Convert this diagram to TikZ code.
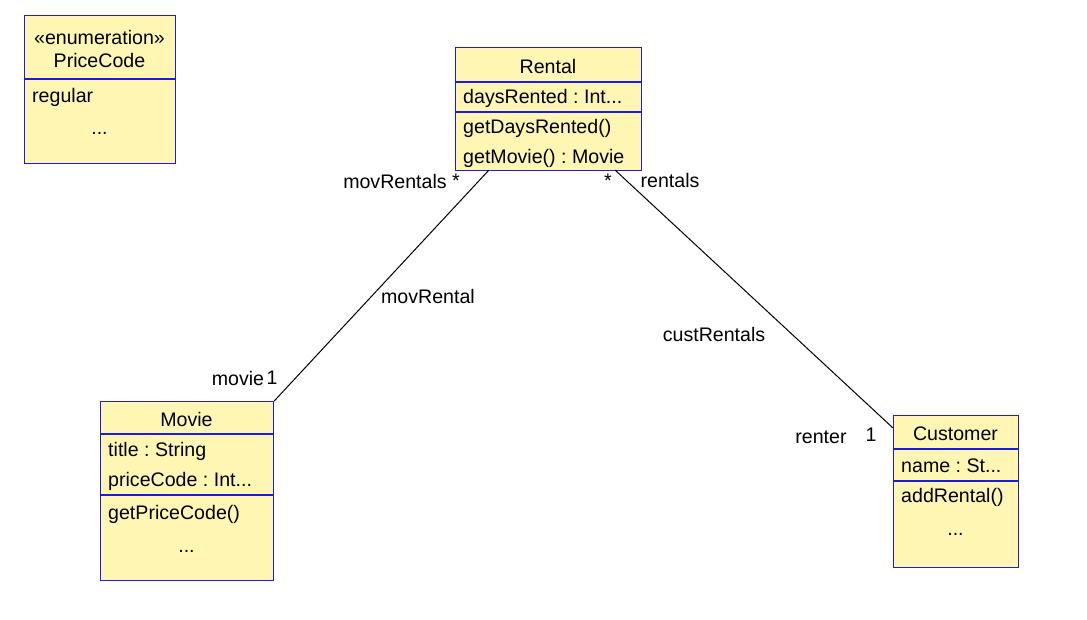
\documentclass[tikz,border=0pt]{standalone}
\usepackage{fontspec}
\setmainfont{Liberation Sans}
\frenchspacing
\definecolor{classfill}{RGB}{255,246,180}
\definecolor{classline}{RGB}{28,28,222}
\begin{document}
\begin{tikzpicture}[x=1pt,y=-1pt,
  every node/.style={font=\fontsize{19.6}{23}\selectfont, inner sep=0pt},
  classbox/.style={draw=classline, fill=classfill, line width=1.2pt, anchor=north west, inner sep=0pt},
  divider/.style={draw=classline, line width=1.2pt},
  member/.style={anchor=west},
  title/.style={anchor=center},
  ellipsis/.style={anchor=base},
  assoc/.style={draw=black, line width=1pt},
  rolelabel/.style={anchor=center}]
\useasboundingbox (0,0) rectangle (1087,619);

% PriceCode enumeration
\node[classbox, minimum width=151pt, minimum height=148pt] (price) at (24,15) {};
\draw[divider] (price.west |- 0,79) -- (price.east |- 0,79);
\node[title] (priceSt) at (99.5,37) {«enumeration»};
\node[title] (priceT) at (99.5,60) {PriceCode};
\node[member] (priceA) at (32,97) {regular};
\node[ellipsis] (priceM) at (99.5,134) {...};

% Rental
\node[classbox, minimum width=186pt, minimum height=123pt] (rental) at (455,47) {};
\draw[divider] (rental.west |- 0,82) -- (rental.east |- 0,82);
\draw[divider] (rental.west |- 0,112) -- (rental.east |- 0,112);
\node[title] (rentalT) at (548,66) {Rental};
\node[member] (rentalA) at (463,98) {daysRented : Int...};
\node[member] (rentalO1) at (463,128) {getDaysRented()};
\node[member] (rentalO2) at (463,158) {getMovie() : Movie};

% Movie
\node[classbox, minimum width=173pt, minimum height=179pt] (movie) at (100,401) {};
\draw[divider] (movie.west |- 0,434) -- (movie.east |- 0,434);
\draw[divider] (movie.west |- 0,495) -- (movie.east |- 0,495);
\node[title] (movieT) at (186.5,419) {Movie};
\node[member] (movieA1) at (108,451) {title : String};
\node[member] (movieA2) at (108,481) {priceCode : Int...};
\node[member] (movieO1) at (108,514) {getPriceCode()};
\node[ellipsis] (movieM) at (186.5,552) {...};

% Customer
\node[classbox, minimum width=125pt, minimum height=152pt] (cust) at (893,415) {};
\draw[divider] (cust.west |- 0,449) -- (cust.east |- 0,449);
\draw[divider] (cust.west |- 0,481) -- (cust.east |- 0,481);
\node[title] (custT) at (955.5,434) {Customer};
\node[member] (custA) at (901,466) {name : St...};
\node[member] (custO) at (901,497) {addRental()};
\node[ellipsis] (custM) at (955.5,535) {...};

% association end points
\coordinate (rentalMov) at (489,170);
\coordinate (rentalCust) at (615,170);
\coordinate (custIn) at (893,428);

% associations
\draw[assoc] (rentalMov) -- (movie.north east);
\draw[assoc] (rentalCust) -- (custIn);

% roles and multiplicities
\node[rolelabel] (lMovRentals) at (395,181) {movRentals};
\node[rolelabel] (mMovRentals) at (456,181) {*};
\node[rolelabel] (mRentals) at (608,181) {*};
\node[rolelabel] (lRentals) at (670,180) {rentals};
\node[rolelabel] (aMovRental) at (428,296) {movRental};
\node[rolelabel] (aCustRentals) at (714,334) {custRentals};
\node[rolelabel] (lMovie) at (238,378) {movie};
\node[rolelabel] (mMovie) at (272,378) {1};
\node[rolelabel] (lRenter) at (821,437) {renter};
\node[rolelabel] (mRenter) at (871,435) {1};
\end{tikzpicture}
\end{document}
